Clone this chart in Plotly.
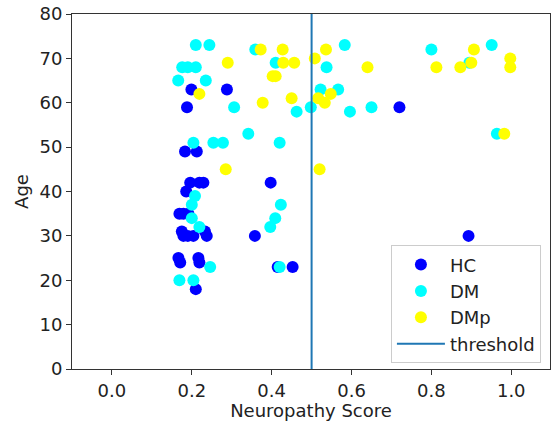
import plotly.graph_objects as go

# Neuropathy score / age per group
hc_score = [0.199, 0.288, 0.188, 0.72, 0.183, 0.2125, 0.196, 0.219, 0.229, 0.3975, 0.186,
            0.169, 0.179, 0.1915, 0.175, 0.179, 0.19, 0.204, 0.233, 0.2375, 0.358, 0.893,
            0.1665, 0.171, 0.2165, 0.219, 0.415, 0.4525, 0.21]
hc_age = [63, 63, 59, 59, 49, 49, 42, 42, 42, 42, 40,
          35, 35, 35, 31, 30, 30, 30, 31, 30, 30, 30,
          25, 24, 25, 24, 23, 23, 18]

dm_score = [0.21, 0.244, 0.359, 0.583, 0.8, 0.951, 0.176, 0.19, 0.21, 0.5375, 0.41, 0.895,
            0.166, 0.235, 0.5225, 0.5665, 0.306, 0.498, 0.65, 0.4625, 0.596, 0.3415, 0.964,
            0.204, 0.254, 0.278, 0.42, 0.208, 0.2, 0.423, 0.2, 0.409, 0.219, 0.3965,
            0.246, 0.42, 0.169, 0.204]
dm_age = [73, 73, 72, 73, 72, 73, 68, 68, 68, 68, 69, 69,
          65, 65, 63, 63, 59, 59, 59, 58, 58, 53, 53,
          51, 51, 51, 51, 39, 37, 37, 34, 34, 32, 32,
          23, 23, 20, 20]

dmp_score = [0.3725, 0.4275, 0.536, 0.9065, 0.29, 0.429, 0.4565, 0.9, 0.508, 0.9975,
             0.64, 0.8125, 0.8725, 0.9975, 0.4025, 0.41, 0.219, 0.548, 0.3775, 0.45,
             0.5165, 0.533, 0.285, 0.52, 0.9825]
dmp_age = [72, 72, 72, 72, 69, 69, 69, 69, 70, 70,
           68, 68, 68, 68, 66, 66, 62, 62, 60, 61,
           61, 60, 45, 45, 53]

THRESHOLD = 0.5
X_TICKS = [0.0, 0.2, 0.4, 0.6, 0.8, 1.0]
Y_TICKS = [0, 10, 20, 30, 40, 50, 60, 70, 80]

FONT = "DejaVu Sans"
MS = 12

fig = go.Figure()
fig.add_trace(go.Scatter(x=hc_score, y=hc_age, mode="markers", name="HC",
                         marker=dict(color="#0000ff", size=MS, line=dict(width=0))))
fig.add_trace(go.Scatter(x=dm_score, y=dm_age, mode="markers", name="DM",
                         marker=dict(color="#00ffff", size=MS, line=dict(width=0))))
fig.add_trace(go.Scatter(x=dmp_score, y=dmp_age, mode="markers", name="DMp",
                         marker=dict(color="#ffff00", size=MS, line=dict(width=0))))
fig.add_trace(go.Scatter(x=[THRESHOLD, THRESHOLD], y=[Y_TICKS[0], Y_TICKS[-1]], mode="lines",
                         name="threshold", line=dict(color="#1f77b4", width=2)))

axis_common = dict(showgrid=False, zeroline=False, showline=True, linecolor="#333333",
                   linewidth=1, mirror=True, ticks="outside", ticklen=5, tickwidth=1,
                   tickcolor="#333333", automargin=False,
                   tickfont=dict(family=FONT, size=18, color="#222222"))

fig.update_layout(
    width=553, height=421,
    margin=dict(l=72, r=3, t=14, b=52),
    plot_bgcolor="white", paper_bgcolor="white",
    font=dict(family=FONT, size=18, color="#222222"),
    xaxis=dict(range=[-0.1, 1.097], tickvals=X_TICKS, tickformat=".1f",
               title=dict(text="Neuropathy Score", font=dict(family=FONT, size=18), standoff=2),
               **axis_common),
    yaxis=dict(range=[0, 80], tickvals=Y_TICKS,
               title=dict(text="Age", font=dict(family=FONT, size=18), standoff=6),
               **axis_common),
    legend=dict(x=0.981, y=0.016, xanchor="right", yanchor="bottom",
                bgcolor="rgba(255,255,255,0.8)", bordercolor="#cccccc", borderwidth=1,
                font=dict(family=FONT, size=18, color="#222222"), itemwidth=48),
    showlegend=True,
)

# remove the browser's default 8px body margin so the figure fills the window
fig.write_html("out.html", config={"displayModeBar": False},
               post_script="document.body.style.margin='0';document.body.style.overflow='hidden';")
